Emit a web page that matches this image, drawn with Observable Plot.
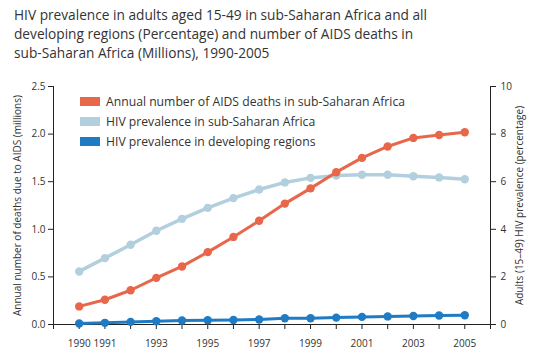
<!DOCTYPE html>
<html>
<head>
<meta charset="utf-8">
<script src="https://cdn.jsdelivr.net/npm/d3@7"></script>
<script src="https://cdn.jsdelivr.net/npm/@observablehq/plot@0.6"></script>
<style>
  html, body { margin: 0; padding: 0; background: #fff; }
  body { width: 560px; height: 363px; overflow: hidden; font-family: "Open Sans", sans-serif; }
  #title { box-sizing: border-box; height: 70px; padding: 5px 0 0 14px; font-size: 13.7px; line-height: 19px; color: #333; }
  #wrap { position: relative; width: 560px; height: 293px; }
  #legend { position: absolute; left: 80px; top: 21px; font-size: 12.2px; color: #333; }
  .row { display: flex; align-items: center; height: 20px; }
  .sw { width: 20px; height: 9px; margin-right: 6px; }
</style>
</head>
<body>
<div id="title">HIV prevalence in adults aged 15-49 in sub-Saharan Africa and all<br>developing regions (Percentage) and number of AIDS deaths in<br>sub-Saharan Africa (Millions), 1990-2005</div>
<div id="wrap"><div id="legend"></div></div>
<script>
const years = [1990,1991,1992,1993,1994,1995,1996,1997,1998,1999,2000,2001,2002,2003,2004,2005];
const aidsDeaths = [0.19,0.26,0.36,0.49,0.61,0.76,0.92,1.09,1.27,1.43,1.60,1.75,1.87,1.96,1.99,2.02];
const hivSSA = [2.23,2.79,3.35,3.94,4.44,4.90,5.31,5.67,5.97,6.16,6.26,6.29,6.29,6.23,6.18,6.10];
const hivDev = [0.04,0.07,0.11,0.14,0.17,0.18,0.19,0.21,0.26,0.26,0.29,0.32,0.34,0.36,0.38,0.39];
const seriesNames = ["Annual number of AIDS deaths in sub-Saharan Africa", "HIV prevalence in sub-Saharan Africa", "HIV prevalence in developing regions"];
const seriesColors = ["#e8674b", "#b2cfde", "#1f7bc3"];
const xTickYears = [1989,1990,1991,1992,1993,1994,1995,1996,1997,1998,1999,2000,2001,2002,2003,2004,2005,2006];
const xLabelYears = [1990,1991,1993,1995,1997,1999,2001,2003,2005];
const leftTicks = [0,0.5,1,1.5,2,2.5];
const rightTicks = [0,2,4,6,8,10];

const ratio = 2.5 / 10; // right axis (0-10%) onto left axis (0-2.5 M)
const deaths = years.map((y, i) => ({year: y, v: aidsDeaths[i]}));
const ssa = years.map((y, i) => ({year: y, v: hivSSA[i] * ratio}));
const dev = years.map((y, i) => ({year: y, v: hivDev[i] * ratio}));

const lineDot = (data, color, w) => [
  Plot.line(data, {x: "year", y: "v", stroke: color, strokeWidth: w}),
  Plot.dot(data, {x: "year", y: "v", fill: color, r: 4.2})
];

const chart = Plot.plot({
  width: 560,
  height: 293,
  marginTop: 16,
  marginBottom: 39,
  marginLeft: 53,
  marginRight: 70,
  style: {fontFamily: "Open Sans, sans-serif", fontSize: "10px", color: "#333"},
  x: {domain: [1989, 2006]},
  y: {domain: [0, 2.5]},
  marks: [
    Plot.axisX({ticks: xTickYears, tickSize: 5, tickPadding: 10, tickFormat: d => xLabelYears.includes(d) ? String(d) : "", label: null, stroke: "#222"}),
    Plot.axisY({anchor: "left", ticks: leftTicks, tickSize: 5, tickPadding: 3, tickFormat: d3.format(".1f"), label: "Annual number of deaths due to AIDS (millions)", labelAnchor: "center", labelArrow: "none", labelOffset: 40, stroke: "#222"}),
    Plot.axisY({anchor: "right", ticks: rightTicks.map(t => t * ratio), tickSize: 5, tickPadding: 5, tickFormat: d => String(Math.round(d / ratio)), label: "Adults (15–49) HIV prevalence (percentage)", labelAnchor: "center", labelArrow: "none", labelOffset: 32, stroke: "#222"}),
    Plot.ruleX([1989], {stroke: "#222"}),
    Plot.ruleX([2006], {stroke: "#222"}),
    Plot.ruleY([0], {stroke: "#222"}),
    ...lineDot(ssa, seriesColors[1], 3.5),
    ...lineDot(deaths, seriesColors[0], 3),
    ...lineDot(dev, seriesColors[2], 3)
  ]
});
document.getElementById("wrap").prepend(chart);

const legend = document.getElementById("legend");
seriesNames.forEach((name, i) => {
  const row = document.createElement("div");
  row.className = "row";
  const sw = document.createElement("div");
  sw.className = "sw";
  sw.style.background = seriesColors[i];
  const t = document.createElement("span");
  t.textContent = name;
  row.appendChild(sw);
  row.appendChild(t);
  legend.appendChild(row);
});
</script>
</body>
</html>
